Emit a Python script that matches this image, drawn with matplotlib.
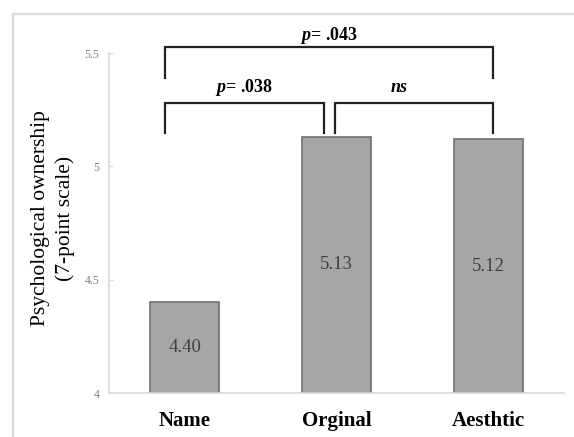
import matplotlib
matplotlib.use("Agg")
import matplotlib.pyplot as plt
from matplotlib.lines import Line2D

categories = ["Name", "Orginal", "Aesthtic"]
values = [4.40, 5.13, 5.12]
value_labels = ["4.40", "5.13", "5.12"]
yticks = [4, 4.5, 5, 5.5]
ytick_labels = ["4", "4.5", "5", "5.5"]
comparisons = [  # (x_left, x_right, y_top, y_bottom, label, label_x, label_y)
    (-0.13, 2.03, 5.526, 5.39, "$p$= .043", 0.95, 5.579),
    (-0.13, 0.917, 5.28, 5.147, "$p$= .038", 0.39, 5.346),
    (0.99, 2.03, 5.28, 5.147, "ns", 1.41, 5.346),
]

plt.rcParams["mathtext.fontset"] = "custom"
plt.rcParams["mathtext.it"] = "Liberation Serif:italic:bold"
plt.rcParams["mathtext.rm"] = "Liberation Serif:bold"
plt.rcParams["mathtext.bf"] = "Liberation Serif:bold"

fig = plt.figure(figsize=(5.74, 4.37), dpi=100)
ax = fig.add_axes([109/574, 44/437, 455/574, 340/437])

x = list(range(len(categories)))
ax.bar(x, [v - 4 for v in values], bottom=4, width=0.455,
       color="#a6a6a6", edgecolor="#6f6f6f", linewidth=1.2, zorder=2)
for xi, v, lab in zip(x, values, value_labels):
    ax.text(xi, (4 + v) / 2, lab, ha="center", va="center",
            family="Liberation Serif", fontsize=13.5, color="#404040")

ax.set_xlim(-0.5, 2.5)
ax.set_ylim(4, 5.5)
ax.set_yticks(yticks)
ax.set_yticklabels(ytick_labels, family="Liberation Serif", fontsize=8.5, color="#7f7f7f")
ax.set_xticks(x)
ax.set_xticklabels(categories, family="Liberation Serif", fontsize=15, fontweight="bold")
ax.tick_params(axis="y", direction="in", length=3, color="#d9d9d9", pad=7)
ax.tick_params(axis="x", length=0, pad=13)
for s in ["top", "right"]:
    ax.spines[s].set_visible(False)
for s in ["left", "bottom"]:
    ax.spines[s].set_color("#d9d9d9")
    ax.spines[s].set_linewidth(1.2)

fig.text(53/574, 1 - 218/437, "Psychological ownership\n(7-point scale)",
         family="Liberation Serif", fontsize=15.5, linespacing=1.4,
         rotation=90, ha="center", va="center", multialignment="center")

for xl, xr, yt, yb, lab, lx, ly in comparisons:
    ax.plot([xl, xl, xr, xr], [yb, yt, yt, yb], color="#222222", lw=1.6,
            clip_on=False, solid_joinstyle="miter", zorder=3)
    if lab == "ns":
        ax.text(lx, ly, lab, ha="center", va="center", family="Liberation Serif",
                fontsize=13, fontweight="bold", fontstyle="italic", clip_on=False)
    else:
        ax.text(lx, ly, lab, ha="center", va="center", family="Liberation Serif",
                fontsize=13, fontweight="bold", clip_on=False)

# outer light frame
fig.add_artist(Line2D([13/574, 13/574], [0, 1 - 14/437], transform=fig.transFigure,
                      color="#d9d9d9", lw=1.6))
fig.add_artist(Line2D([13/574, 1], [1 - 14/437, 1 - 14/437], transform=fig.transFigure,
                      color="#d9d9d9", lw=1.6))

fig.savefig("out.png", dpi=100)
